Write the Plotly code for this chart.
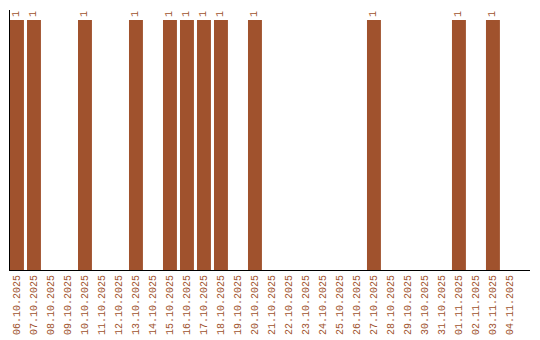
import plotly.graph_objects as go

dates = ["06.10.2025", "07.10.2025", "08.10.2025", "09.10.2025", "10.10.2025",
         "11.10.2025", "12.10.2025", "13.10.2025", "14.10.2025", "15.10.2025",
         "16.10.2025", "17.10.2025", "18.10.2025", "19.10.2025", "20.10.2025",
         "21.10.2025", "22.10.2025", "23.10.2025", "24.10.2025", "25.10.2025",
         "26.10.2025", "27.10.2025", "28.10.2025", "29.10.2025", "30.10.2025",
         "31.10.2025", "01.11.2025", "02.11.2025", "03.11.2025", "04.11.2025"]
counts = [1, 1, None, None, 1, None, None, 1, None, 1,
          1, 1, 1, None, 1, None, None, None, None, None,
          None, 1, None, None, None, None, 1, None, 1, None]

color = "#A0522D"
font_family = "Liberation Mono, Courier New, monospace"

fig = go.Figure(go.Bar(
    x=dates, y=counts,
    marker=dict(color=color, line=dict(width=0)),
    width=0.82,
    text=[str(v) if v is not None else "" for v in counts],
    textposition="outside",
    textangle=-90,
    textfont=dict(family=font_family, size=10, color=color),
    cliponaxis=False,
))

fig.update_layout(
    width=540, height=340,
    margin=dict(l=10, r=10, t=10, b=70, autoexpand=False),
    plot_bgcolor="white", paper_bgcolor="white",
    showlegend=False,
    bargap=0.18,
)
fig.update_xaxes(
    type="category", categoryorder="array", categoryarray=dates,
    range=[-0.41, 30.18],
    tickangle=-90,
    tickfont=dict(family=font_family, size=10, color=color),
    ticks="", showgrid=False, automargin=False,
    showline=True, linecolor="black", linewidth=1,
)
fig.update_yaxes(
    range=[0, 1.04], automargin=False,
    showticklabels=False, ticks="", showgrid=False, zeroline=False,
    showline=True, linecolor="black", linewidth=1, layer="below traces",
)

fig.write_html("out.html")
